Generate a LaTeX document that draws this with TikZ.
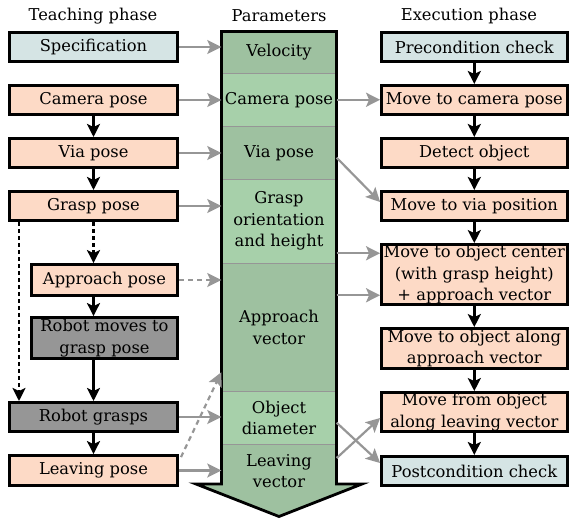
\documentclass[tikz,border=0pt]{standalone}
\usepackage{fontspec}
\setmainfont{DejaVu Serif}
\usetikzlibrary{arrows.meta,calc}

\definecolor{peach}{RGB}{253,218,198}
\definecolor{check}{RGB}{213,228,228}
\definecolor{robot}{RGB}{150,150,150}
\definecolor{pdark}{RGB}{158,193,160}
\definecolor{plight}{RGB}{167,208,170}
\definecolor{conn}{RGB}{150,150,150}

\begin{document}
\begin{tikzpicture}[x=1pt,y=-1pt,
  every node/.style={font=\fontsize{16.3}{21.5}\selectfont, align=center, inner sep=0pt},
  box/.style={draw=black, line width=2.8pt, minimum height=29.2pt},
  wide/.style={box, minimum width=168.2pt},
  narrow/.style={box, minimum width=146.2pt},
  exec/.style={box, minimum width=185.6pt},
  seg/.style={minimum width=115pt},
  flow/.style={-{Stealth[length=13pt,width=13pt,inset=3pt]}, line width=2.6pt, black},
  dotflow/.style={flow, dash pattern=on 4pt off 3pt},
  tie/.style={-{Stealth[length=14pt,width=14pt,inset=3pt]}, line width=2.2pt, conn},
  dashtie/.style={tie, dash pattern=on 5pt off 4pt},
  sepline/.style={draw=conn, line width=1pt},
]
\useasboundingbox (0,0) rectangle (569,519);

% column headings
\node (hteach) at (93,16) {Teaching phase};
\node (hparam) at (279,16) {Parameters};
\node (hexec) at (469,16) {Execution phase};

% teaching phase
\node[wide, fill=check] (spec) at (93.5,47) {Specification};
\node[wide, fill=peach] (cam) at (93.5,100) {Camera pose};
\node[wide, fill=peach] (via) at (93.5,153) {Via pose};
\node[wide, fill=peach] (grasp) at (93.5,206) {Grasp pose};
\node[narrow, fill=peach, minimum height=31pt] (apose) at (104.5,280) {Approach pose};
\node[narrow, fill=robot, minimum height=41pt] (rmove) at (104.5,338) {Robot moves to\\grasp pose};
\node[wide, fill=robot] (rgrasp) at (93.5,417) {Robot grasps};
\node[wide, fill=peach, minimum height=30pt] (lpose) at (93.5,470.5) {Leaving pose};

% parameter arrow body
\fill[pdark] (221.5,31.5) -- (336.5,31.5) -- (336.5,484) -- (362,484) -- (279,516.5)
  -- (196,484) -- (221.5,484) -- cycle;
\node[seg, fill=pdark, minimum height=42pt] (pvel) at (279,52.25) {Velocity};
\node[seg, fill=plight, minimum height=53pt] (pcam) at (279,99.75) {Camera pose};
\node[seg, fill=pdark, minimum height=53pt] (pvia) at (279,152.75) {Via pose};
\node[seg, fill=plight, minimum height=84pt] (pgrasp) at (279,221.25) {Grasp\\orientation\\and height};
\node[seg, fill=pdark, minimum height=128pt] (pappr) at (279,327.25) {Approach\\vector};
\node[seg, fill=plight, minimum height=53pt] (pdiam) at (279,417.75) {Object\\diameter};
\node[seg] (pleave) at (279,471) {Leaving\\vector};
\foreach \s in {pvel,pcam,pvia,pgrasp,pappr,pdiam}
  \draw[sepline] (\s.south west) -- (\s.south east);
\draw[line width=2.8pt, black, line join=miter] (221.5,31.5) -- (336.5,31.5) -- (336.5,484)
  -- (362,484) -- (279,516.5) -- (196,484) -- (221.5,484) -- cycle;

% execution phase
\node[exec, fill=check] (pre) at (474.3,47) {Precondition check};
\node[exec, fill=peach] (mcam) at (474.3,100) {Move to camera pose};
\node[exec, fill=peach] (detect) at (474.3,153) {Detect object};
\node[exec, fill=peach] (mvia) at (474.3,206) {Move to via position};
\node[exec, fill=peach, minimum height=60pt] (mobj) at (474.3,274.5) {Move to object center\\(with grasp height)\\+ approach vector};
\node[exec, fill=peach, minimum height=40pt] (malong) at (474.3,348.5) {Move to object along\\approach vector};
\node[exec, fill=peach, minimum height=39pt] (mfrom) at (474.3,412) {Move from object\\along leaving vector};
\node[exec, fill=check] (post) at (474.3,471) {Postcondition check};

% teaching sequence
\draw[flow] (cam) -- (via);
\draw[flow] (via) -- (grasp);
\draw[dotflow] (grasp.south) -- (grasp.south |- apose.north);
\draw[dotflow] ([xshift=11pt]grasp.south west) coordinate (dl) -- (dl |- rgrasp.north);
\draw[flow] (grasp.south |- apose.south) -- (grasp.south |- rmove.north);
\draw[flow] (grasp.south |- rmove.south) -- (rgrasp.north);
\draw[flow] (rgrasp) -- (lpose);

% execution sequence
\draw[flow] (pre) -- (mcam);
\draw[flow] (mcam) -- (detect);
\draw[flow] (detect) -- (mvia);
\draw[flow] (mvia) -- (mobj);
\draw[flow] (mobj) -- (malong);
\draw[flow] (malong) -- (mfrom);
\draw[flow] (mfrom) -- (post);

% teaching outputs into parameters
\draw[tie] (spec.east) -- (spec.east -| pvel.west);
\draw[tie] (cam.east) -- (cam.east -| pcam.west);
\draw[tie] (via.east) -- (via.east -| pvia.west);
\draw[tie] (grasp.east) -- (grasp.east -| pgrasp.west);
\draw[dashtie] (apose.east) -- (apose.east -| pappr.west);
\draw[tie] (rgrasp.east) -- (rgrasp.east -| pdiam.west);
\draw[tie] (lpose.east) -- (lpose.east -| pleave.west);
\draw[dashtie] ([xshift=2pt,yshift=-3pt]lpose.north east) -- ([yshift=-45pt]pappr.west);

% parameters used in execution
\draw[tie] (pcam.east) -- (pcam.east -| mcam.west);
\draw[tie] ([yshift=-5pt]pvia.east) -- ([yshift=4pt]mvia.west);
\draw[tie] ([yshift=-32pt]pgrasp.east) coordinate (ga) -- (ga -| mobj.west);
\draw[tie] ([yshift=32pt]pappr.east) coordinate (aa) -- (aa -| mobj.west);
\draw[tie] ([yshift=-5pt]pdiam.east) -- ([yshift=8pt]post.west);
\draw[tie] ([yshift=13pt]pleave.east) -- ([yshift=-6pt]mfrom.west);
\end{tikzpicture}
\end{document}
